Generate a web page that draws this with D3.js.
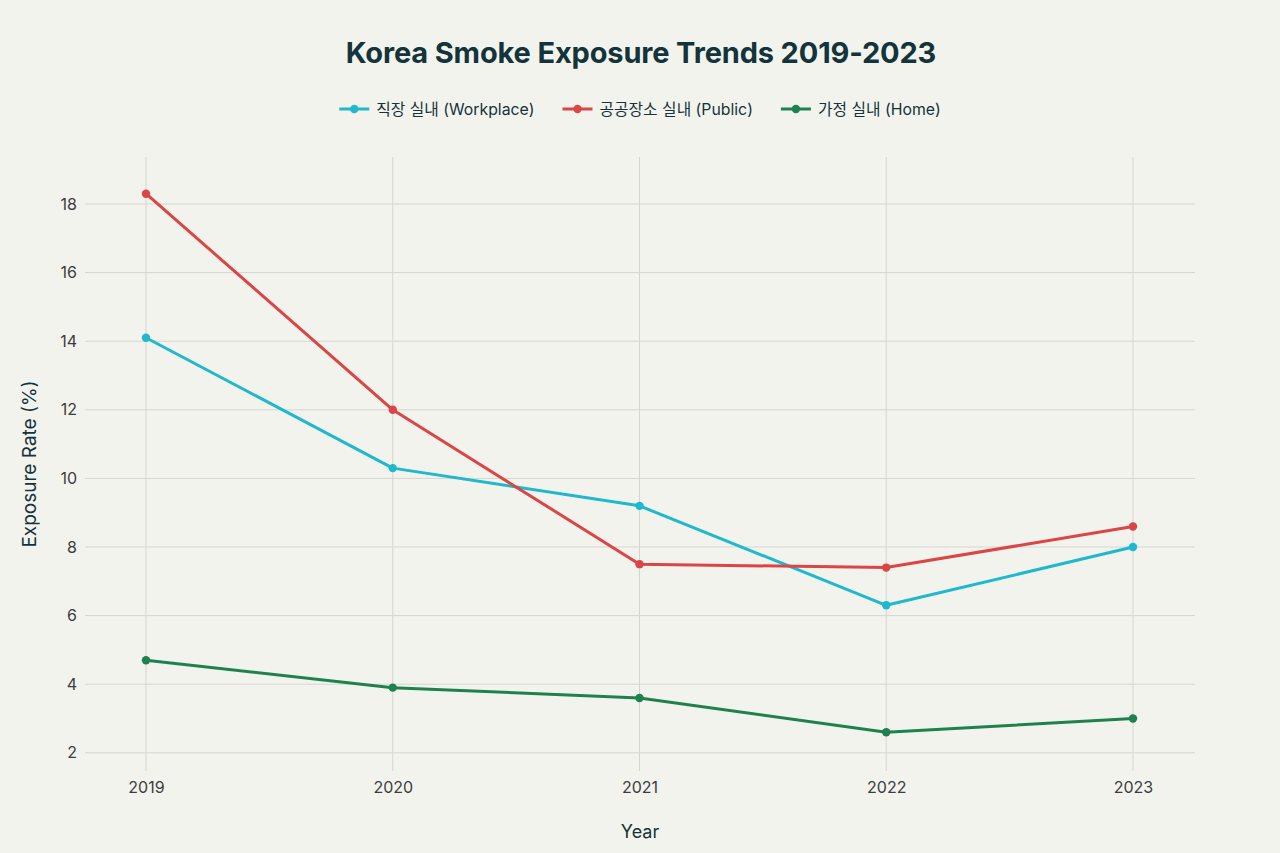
<!DOCTYPE html>
<html><head><meta charset="utf-8">
<script src="https://cdn.jsdelivr.net/npm/d3@7"></script>
<style>
html,body{margin:0;padding:0;background:#F3F3EE;}
svg{display:block;}
</style></head>
<body>
<svg id="c" width="1280" height="853"></svg>
<script>
const years = [2019, 2020, 2021, 2022, 2023];
const seriesNames = ["직장 실내 (Workplace)", "공공장소 실내 (Public)", "가정 실내 (Home)"];
const workplace = [14.1, 10.3, 9.2, 6.3, 8.0];
const publicPlace = [18.3, 12.0, 7.5, 7.4, 8.6];
const home = [4.7, 3.9, 3.6, 2.6, 3.0];
const yTicks = [2, 4, 6, 8, 10, 12, 14, 16, 18];
const colors = ["#1FB8CD", "#DB4545", "#1F8050"];
const seriesValues = [workplace, publicPlace, home];

const font = "Inter, 'Noto Sans CJK KR', 'Noto Sans', sans-serif";
const svg = d3.select("#c");
svg.append("rect").attr("width",1280).attr("height",853).attr("fill","#F3F3EE");

const pLeft = 85, pRight = 1195, pTop = 157, pBottom = 771;
const x = d3.scaleLinear().domain([2019, 2023]).range([146, 1133]);
const y = d3.scaleLinear().domain([1.47, 19.37]).range([pBottom, pTop]);

// gridlines
const g = svg.append("g");
g.selectAll(".hg").data(yTicks).join("line")
  .attr("x1", pLeft).attr("x2", pRight)
  .attr("y1", d=>y(d)).attr("y2", d=>y(d))
  .attr("stroke","#d6d6d1").attr("stroke-width",1);
g.selectAll(".vg").data(years).join("line")
  .attr("x1", d=>x(d)).attr("x2", d=>x(d))
  .attr("y1", pTop).attr("y2", pBottom)
  .attr("stroke","#d6d6d1").attr("stroke-width",1);

// axes
const yAxis = d3.axisLeft(y).tickValues(yTicks).tickSize(0).tickPadding(8);
const ya = svg.append("g").attr("transform",`translate(${pLeft},0)`).call(yAxis);
ya.select(".domain").remove();
ya.selectAll("text").attr("font-family",font).attr("font-size",16).attr("fill","#3c3c3c");

const xAxis = d3.axisBottom(x).tickValues(years).tickFormat(d3.format("d")).tickSize(0).tickPadding(11);
const xa = svg.append("g").attr("transform",`translate(0,${pBottom})`).call(xAxis);
xa.select(".domain").remove();
xa.selectAll("text").attr("font-family",font).attr("font-size",16).attr("fill","#3c3c3c");

// lines
const line = d3.line().x((d,i)=>x(years[i])).y(d=>y(d));
seriesValues.forEach((vals, si) => {
  svg.append("path").datum(vals).attr("d", line)
    .attr("fill","none").attr("stroke",colors[si]).attr("stroke-width",3)
    .attr("stroke-linejoin","round");
  svg.selectAll(".m"+si).data(vals).join("circle")
    .attr("cx",(d,i)=>x(years[i])).attr("cy",d=>y(d)).attr("r",4.2)
    .attr("fill",colors[si]);
});

// title
svg.append("text").attr("x",641).attr("y",63).attr("text-anchor","middle")
  .attr("font-family",font).attr("font-size",29).attr("font-weight",700)
  .attr("fill","#13343B").attr("letter-spacing","-0.15").text("Korea Smoke Exposure Trends 2019-2023");

// axis titles
svg.append("text").attr("x",640).attr("y",838).attr("text-anchor","middle")
  .attr("font-family",font).attr("font-size",18).attr("fill","#13343B").text("Year");
svg.append("text").attr("transform","translate(36,464) rotate(-90)").attr("text-anchor","middle")
  .attr("font-family",font).attr("font-size",19).attr("fill","#13343B").text("Exposure Rate (%)");

// legend
const leg = svg.append("g");
const items = [];
seriesNames.forEach((name, si) => {
  const it = leg.append("g");
  it.append("line").attr("x1",0).attr("x2",30).attr("y1",0).attr("y2",0)
    .attr("stroke",colors[si]).attr("stroke-width",3);
  it.append("circle").attr("cx",15).attr("cy",0).attr("r",4.2).attr("fill",colors[si]);
  const t = it.append("text").attr("x",37).attr("y",5.5).attr("font-family",font)
    .attr("font-size",15.8).attr("fill","#13343B").text(name);
  const w = 37 + t.node().getComputedTextLength();
  items.push({it, w});
});
const gap = 28;
const total = d3.sum(items, d=>d.w) + gap*(items.length-1);
let cx = 640 - total/2;
items.forEach(d => { d.it.attr("transform",`translate(${cx},109)`); cx += d.w + gap; });
</script>
</body></html>
